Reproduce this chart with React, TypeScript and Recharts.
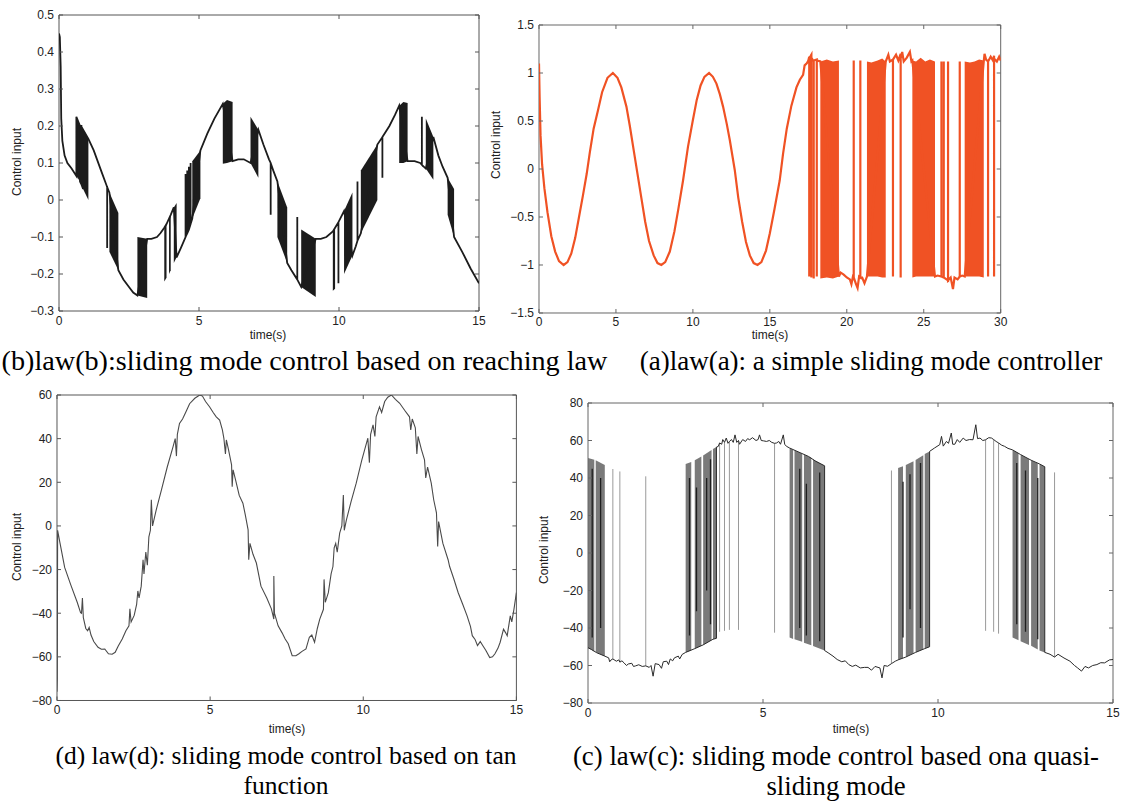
import React from 'react';
import { ComposedChart, Line, Area, XAxis, YAxis, ReferenceArea } from 'recharts';

const SANS = '"Liberation Sans", Arial, Helvetica, sans-serif';
const SERIF = '"Liberation Serif", "Times New Roman", Times, serif';

type Pt = [number, number];
type Rg = [number, number, number];

// ---------------- Panel (b): law(b) ----------------
const bTimeTicks = [0, 5, 10, 15];
const bValueTicks = [-0.3, -0.2, -0.1, 0, 0.1, 0.2, 0.3, 0.4, 0.5];
const bPath: Pt[] = [
  [0, 0.45], [0.03, 0.44], [0.06, 0.36], [0.08, 0.22], [0.12, 0.16], [0.2, 0.12], [0.3, 0.1], [0.45, 0.085], [0.62, 0.065], [0.62, 0.225],
  [0.75, 0.2], [0.75, 0.05], [0.8, 0.042], [0.8, 0.203], [0.8, 0.042], [0.86, 0.03], [0.86, 0.19],
  [1.05, 0.165], [1.24, 0.134], [1.5, 0.08], [1.72, 0.035], [1.72, -0.13], [1.72, 0.035], [1.8, 0.02],
  [2.12, -0.19], [2.3, -0.215], [2.5, -0.235], [2.65, -0.25], [2.8, -0.258],
  [3.15, -0.105], [3.3, -0.105], [3.5, -0.1], [3.62, -0.09], [3.76, -0.075],
  [3.84, -0.065], [3.93, -0.05], [3.99, -0.04], [4.1, -0.02],
  [4.2, -0.155], [4.35, -0.13], [4.52, -0.1], [4.52, 0.07], [4.52, -0.1], [4.58, -0.09], [4.58, 0.08], [4.58, -0.09],
  [4.64, -0.08], [4.64, 0.09], [4.64, -0.08], [4.7, -0.065], [4.7, 0.1], [4.7, -0.065], [4.76, -0.05],
  [5.05, 0.134], [5.3, 0.18], [5.55, 0.22], [5.85, 0.26],
  [6.2, 0.105], [6.4, 0.11], [6.6, 0.11], [6.84, 0.1],
  [7.12, 0.19], [7.3, 0.15], [7.5, 0.11], [7.56, 0.1], [7.56, -0.04], [7.56, 0.1], [7.65, 0.08], [7.8, 0.05],
  [8.15, -0.17], [8.3, -0.19], [8.51, -0.215], [8.51, -0.046], [8.51, -0.215], [8.65, -0.235],
  [9.17, -0.105], [9.35, -0.105], [9.55, -0.1], [9.78, -0.085],
  [9.86, -0.075], [9.98, -0.06], [9.98, -0.225], [9.98, -0.06], [10.18, -0.03],
  [10.48, -0.15], [10.6, -0.125], [10.66, -0.11], [10.66, 0.05], [10.66, -0.11], [10.78, -0.09],
  [11.37, 0.15], [11.55, 0.17], [11.55, 0.06], [11.55, 0.17], [11.8, 0.2], [12.0, 0.23], [12.15, 0.255],
  [12.45, 0.105], [12.7, 0.105], [12.9, 0.1], [12.96, 0.095], [12.96, 0.225], [12.96, 0.095], [13.1, 0.085],
  [13.37, 0.17], [13.55, 0.12], [13.7, 0.09], [13.88, 0.06],
  [14.11, -0.1], [14.4, -0.14], [14.7, -0.185], [15, -0.225],
];
const bBlocks: Rg[][] = [
  [[0.62, 0.065, 0.225], [0.75, 0.05, 0.2]],
  [[0.86, 0.03, 0.19], [1.05, 0.0, 0.165]],
  [[1.8, -0.14, 0.02], [2.12, -0.19, -0.035]],
  [[2.8, -0.258, -0.1], [3.15, -0.265, -0.105]],
  [[3.76, -0.22, -0.075], [3.84, -0.21, -0.065]],
  [[3.93, -0.2, -0.05], [3.99, -0.19, -0.04]],
  [[4.1, -0.17, -0.02], [4.2, -0.155, -0.008]],
  [[4.76, -0.05, 0.105], [5.05, 0.005, 0.134]],
  [[5.85, 0.098, 0.26], [6.0, 0.1, 0.27], [6.2, 0.105, 0.265]],
  [[6.84, 0.1, 0.225], [7.12, 0.06, 0.19]],
  [[7.8, -0.1, 0.05], [8.15, -0.17, -0.02]],
  [[8.65, -0.235, -0.08], [9.17, -0.262, -0.105]],
  [[9.78, -0.245, -0.085], [9.86, -0.24, -0.075]],
  [[10.18, -0.2, -0.03], [10.48, -0.15, 0.02]],
  [[10.78, -0.09, 0.08], [11.37, 0.0, 0.15]],
  [[12.15, 0.1, 0.255], [12.3, 0.1, 0.265], [12.45, 0.105, 0.262]],
  [[13.1, 0.085, 0.22], [13.37, 0.055, 0.17]],
  [[13.88, -0.04, 0.06], [14.11, -0.1, 0.03]],
];

// ---------------- Panel (a): law(a) ----------------
const aTimeTicks = [0, 5, 10, 15, 20, 25, 30];
const aValueTicks = [-1.5, -1, -0.5, 0, 0.5, 1, 1.5];
const aPath: Pt[] = [
  [0, 1.1], [0.04, 0.75], [0.1, 0.35], [0.2, 0.05], [0.35, -0.2], [0.55, -0.45], [0.8, -0.7], [1.05, -0.86], [1.3, -0.96], [1.6, -1.0],
  [1.85, -0.97], [2.1, -0.88], [2.35, -0.72], [2.6, -0.5], [2.85, -0.28], [3.1, -0.05], [3.3, 0.17], [3.55, 0.42], [3.83, 0.61], [4.1, 0.8],
  [4.45, 0.95], [4.8, 1.0], [5.1, 0.95], [5.35, 0.85], [5.68, 0.65], [5.9, 0.45], [6.15, 0.2], [6.4, -0.05], [6.65, -0.3], [6.9, -0.55],
  [7.15, -0.75], [7.45, -0.9], [7.7, -0.98], [7.95, -1.0], [8.2, -0.97], [8.5, -0.86], [8.8, -0.65], [9.05, -0.42], [9.36, -0.12], [9.68, 0.23],
  [10.0, 0.51], [10.25, 0.72], [10.5, 0.87], [10.75, 0.96], [11.05, 1.0], [11.3, 0.96], [11.53, 0.89], [11.75, 0.78], [11.96, 0.65], [12.2, 0.47],
  [12.4, 0.3], [12.72, -0.01], [12.95, -0.3], [13.2, -0.55], [13.45, -0.76], [13.7, -0.9], [13.95, -0.98], [14.2, -1.0], [14.45, -0.97], [14.75, -0.85],
  [15.0, -0.67], [15.3, -0.42], [15.64, -0.12], [15.86, 0.16], [16.1, 0.42], [16.4, 0.66], [16.73, 0.85], [16.95, 0.93], [17.16, 0.98], [17.26, 1.08],
  [17.4, 1.1], [17.5, 1.13],
  [17.56, 1.17], [17.56, -1.12], [17.56, 1.15], [17.7, 1.19], [17.7, -1.13], [17.7, 1.16], [17.85, 1.12], [17.85, -1.14], [17.85, 1.13],
  [18.05, 1.14], [18.05, -1.12], [18.05, 1.13], [18.28, 1.12],
  [19.49, -1.12], [19.6, -1.08], [19.8, -1.1], [20.0, -1.13], [20.2, -1.15], [20.3, -1.2], [20.4, -1.12], [20.45, -1.13], [20.45, 1.13], [20.45, -1.13],
  [20.6, -1.2], [20.7, -1.24], [20.8, -1.12], [20.88, -1.13], [20.88, 1.13], [20.88, -1.13], [21.0, -1.13], [21.15, -1.19], [21.31, -1.12],
  [22.53, 1.12], [22.7, 1.19], [22.8, 1.12], [23.0, 1.14], [23.0, -1.12], [23.0, 1.14], [23.2, 1.19], [23.35, 1.13], [23.5, 1.2], [23.5, -1.13], [23.5, 1.15],
  [23.6, 1.22], [23.7, 1.12], [23.9, 1.16], [24.1, 1.22], [24.2, 1.12], [24.26, 1.13],
  [25.73, -1.12], [25.9, -1.11], [26.15, -1.12], [26.15, 1.12], [26.15, -1.12], [26.3, -1.13], [26.3, 1.12], [26.3, -1.13], [26.58, -1.16], [26.58, 1.12], [26.58, -1.16],
  [26.75, -1.13], [26.9, -1.25], [27.0, -1.13], [27.2, -1.15], [27.34, -1.12], [27.34, 1.12], [27.34, -1.12], [27.5, -1.11], [27.66, -1.12],
  [28.9, 1.12], [28.95, 1.2], [29.05, 1.14], [29.18, 1.12], [29.18, -1.12], [29.18, 1.12], [29.35, 1.17], [29.5, 1.13], [29.57, 1.18], [29.57, -1.12], [29.57, 1.15],
  [29.75, 1.12], [29.9, 1.17], [30, 1.13],
];
const aBlocks: Rg[][] = [
  [[18.28, -1.14, 1.12], [18.7, -1.13, 1.14], [19.1, -1.14, 1.12], [19.49, -1.12, 1.13]],
  [[21.31, -1.12, 1.12], [21.6, -1.12, 1.11], [22.0, -1.12, 1.13], [22.3, -1.13, 1.15], [22.53, -1.13, 1.12]],
  [[24.26, -1.13, 1.13], [24.5, -1.12, 1.12], [24.8, -1.12, 1.16], [25.1, -1.12, 1.12], [25.4, -1.12, 1.14], [25.73, -1.12, 1.12]],
  [[27.66, -1.12, 1.12], [28.0, -1.12, 1.11], [28.3, -1.12, 1.12], [28.6, -1.12, 1.14], [28.9, -1.13, 1.13]],
];

// ---------------- Panel (d): law(d) ----------------
const dTimeTicks = [0, 5, 10, 15];
const dValueTicks = [-80, -60, -40, -20, 0, 20, 40, 60];
const dPath: Pt[] = [
  [0, -76], [0.01, -70], [0.02, -2], [0.1, -8], [0.25, -19], [0.45, -27], [0.66, -35], [0.77, -39.7], [0.8, -40], [0.83, -33], [0.86, -42],
  [0.94, -47], [1.0, -48], [1.05, -46.5], [1.11, -50], [1.2, -53], [1.34, -55.6], [1.45, -56.5], [1.56, -56.4], [1.68, -58.6], [1.8, -58.8],
  [1.9, -57.9], [2.0, -55], [2.13, -51.8], [2.25, -48], [2.35, -45.8], [2.38, -38], [2.42, -44], [2.52, -41], [2.6, -36], [2.64, -29.8],
  [2.68, -33], [2.75, -27.6], [2.81, -15.5], [2.84, -22], [2.9, -12], [2.95, -18], [3.0, -5], [3.05, -2], [3.08, 12], [3.12, 0],
  [3.24, 7.4], [3.4, 16], [3.6, 27], [3.79, 36.3], [3.86, 40], [3.9, 32], [3.93, 42], [4.0, 47], [4.1, 49], [4.2, 52], [4.33, 56],
  [4.5, 58.5], [4.66, 60], [4.75, 59.5], [4.85, 57], [4.98, 54.6], [5.1, 52], [5.2, 50], [5.31, 48.5], [5.4, 44], [5.45, 40], [5.5, 33],
  [5.53, 39.4], [5.6, 35], [5.7, 28], [5.72, 18], [5.75, 25.7], [5.85, 20], [5.95, 14], [6.07, 10.4], [6.15, 5], [6.24, -1.8],
  [6.26, -15.5], [6.3, -8], [6.4, -13], [6.51, -17], [6.66, -27.6], [6.85, -33], [7.0, -38], [7.08, -42.7], [7.08, -23], [7.1, -40],
  [7.22, -45.8], [7.35, -49], [7.45, -51.8], [7.55, -54], [7.68, -59.5], [7.8, -59.5], [7.9, -58.6], [8.0, -57.5], [8.13, -56.4],
  [8.24, -51], [8.32, -50], [8.41, -53.3], [8.5, -47], [8.58, -42.7], [8.7, -38.2], [8.72, -24.5], [8.76, -35], [8.86, -30.6],
  [8.95, -22], [9.01, -18.6], [9.05, -10], [9.1, -8], [9.15, -12], [9.23, -3.3], [9.3, 0], [9.35, 14.2], [9.38, -2], [9.45, 2.8],
  [9.6, 11], [9.77, 19.6], [9.95, 30], [10.15, 40.2], [10.2, 29], [10.24, 42], [10.32, 46.3], [10.38, 41], [10.42, 50], [10.53, 54.6],
  [10.6, 52], [10.7, 57], [10.8, 59], [10.92, 60], [11.05, 58], [11.19, 56.2], [11.35, 53], [11.51, 50], [11.55, 44], [11.6, 49],
  [11.7, 45], [11.75, 33], [11.79, 41], [11.9, 35], [12.0, 30.3], [12.04, 22], [12.1, 27], [12.22, 19.6], [12.3, 12], [12.39, 6],
  [12.43, -9.4], [12.46, 2], [12.6, -8], [12.77, -15.5], [12.82, -18.6], [12.95, -24], [13.1, -30.6], [13.25, -36], [13.39, -41.2],
  [13.5, -46], [13.56, -50.3], [13.65, -52], [13.73, -54.8], [13.82, -53], [13.9, -54.8], [14.0, -57], [14.13, -60.3], [14.22, -60],
  [14.3, -58.6], [14.4, -56], [14.47, -53.3], [14.58, -47.3], [14.65, -49], [14.7, -50.3], [14.8, -41.2], [14.85, -44], [14.92, -38.2], [15, -30.6],
];

// ---------------- Panel (c): law(c) ----------------
const cTimeTicks = [0, 5, 10, 15];
const cValueTicks = [-80, -60, -40, -20, 0, 20, 40, 60, 80];
const cPath: Pt[] = [
  [0, -50.5], [0.1, -51.5], [0.25, -53.2], [0.48, -55], [0.59, -55.9], [0.62, -58], [0.66, -57], [0.71, -56.5], [0.81, -57.7], [0.88, -57], [0.91, -58.2],
  [0.97, -57.5], [1.03, -58.6], [1.1, -60], [1.15, -59.2], [1.25, -58.8], [1.3, -60.5], [1.36, -60.2], [1.45, -59.6], [1.55, -60.5], [1.65, -60.2], [1.75, -61],
  [1.8, -60], [1.86, -65.7], [1.92, -59], [2.03, -59.5], [2.1, -61.5], [2.15, -58], [2.25, -57.7], [2.3, -59.5], [2.35, -56.5], [2.42, -57.5],
  [2.47, -55.9], [2.58, -55], [2.62, -56.5], [2.69, -54.1], [2.79, -53], [3.05, -51], [3.29, -49], [3.57, -46], [3.67, -45.5], [3.67, 56.5],
  [3.72, 56.8], [3.76, 58.7], [3.82, 58], [3.85, 60.5], [3.9, 59], [3.95, 61.3], [4.0, 58.5], [4.04, 59.5], [4.1, 60.5],
  [4.15, 59], [4.2, 63], [4.25, 59], [4.3, 60], [4.33, 58], [4.42, 60.5], [4.5, 59.5], [4.56, 61], [4.62, 60.4], [4.7, 61.5],
  [4.8, 60], [4.86, 60.5], [4.9, 63], [4.95, 60], [5.02, 59.8], [5.1, 59.5], [5.18, 60], [5.25, 59], [5.33, 58.5], [5.39, 58.7],
  [5.45, 59.5], [5.5, 58], [5.58, 63], [5.62, 58], [5.67, 56.9], [5.76, 56], [6.0, 54], [6.3, 51.5], [6.5, 49], [6.76, 46.5], [6.76, -52],
  [6.86, -53.2], [7.0, -55], [7.12, -56.8], [7.25, -58], [7.35, -57.5], [7.45, -59.5], [7.55, -60.5], [7.65, -59.8], [7.78, -61.3], [7.9, -61], [8.0, -61],
  [8.1, -62.5], [8.2, -60.5], [8.34, -61.3], [8.4, -66.6], [8.46, -60], [8.56, -60.4], [8.67, -59], [8.78, -57.7], [8.86, -57],
  [9.08, -55.5], [9.36, -53], [9.62, -51], [9.76, -50], [9.76, 54.2],
  [9.9, 56], [10.05, 57.8], [10.1, 62.2], [10.15, 57], [10.24, 59.5], [10.3, 58.5], [10.38, 64], [10.42, 58], [10.48, 58], [10.55, 60.5],
  [10.62, 59], [10.72, 61.3], [10.8, 60], [10.9, 60.5], [11.0, 60.4], [11.08, 68.4], [11.13, 61], [11.2, 61.3], [11.28, 60], [11.36, 60.4],
  [11.45, 61.5], [11.53, 61.3], [11.59, 60.5], [11.66, 59.5], [11.73, 58.7], [11.82, 57.5], [11.9, 56.9], [12.0, 55.8], [12.13, 55],
  [12.36, 52.5], [12.66, 49.5], [12.9, 47.5], [13.05, 46], [13.05, -53],
  [13.2, -54], [13.33, -55.5], [13.43, -54], [13.6, -56], [13.77, -57.7], [13.9, -60], [13.99, -61.3], [14.1, -63], [14.2, -60.5],
  [14.3, -61.3], [14.42, -60], [14.54, -59.5], [14.65, -58.5], [14.76, -58.6], [14.9, -57], [15, -56.8],
];
const cSpikes: Rg[] = [
  [0.71, -56.5, 44.8], [0.91, -58.2, 43.5], [1.65, -60.2, 40.9], [3.76, -42, 58.7], [3.9, -41.5, 59], [4.04, -41, 59.5], [4.3, -41, 60],
  [5.33, -42.5, 58.5], [8.67, -59, 44], [11.36, -41.5, 60.4], [11.59, -42, 60.5], [11.73, -43, 58.7], [13.33, -55.5, 43],
];
const cDark: Rg[] = [
  [0.12, -45, 45], [0.36, -40, 40], [2.9, -44, 40], [3.1, -31, 35], [3.39, -20, 40], [3.5, -38, 50],
  [6.05, -40, 45], [6.24, -44, 37], [6.62, -47, 43], [9.0, -45, 38], [9.2, -30, 42], [9.5, -40, 48],
  [12.25, -38, 48], [12.5, -42, 44], [12.85, -46, 40],
];
const cBlocks: Rg[][] = [
  [[0, -50.5, 50.7], [0.18, -52.5, 49.8]],
  [[0.22, -52.8, 49.5], [0.48, -55, 47]],
  [[2.79, -53, 47.5], [2.95, -52, 48.5]],
  [[3.05, -51, 49.5], [3.24, -49.5, 51.5]],
  [[3.29, -49, 52], [3.53, -46.5, 55]],
  [[3.57, -46, 55.5], [3.67, -45.5, 56.5]],
  [[5.76, -45, 56], [5.86, -45.8, 55]],
  [[5.9, -46, 54.8], [6.12, -47.3, 53]],
  [[6.17, -47.8, 52.5], [6.38, -49.2, 50.8]],
  [[6.43, -49.6, 50], [6.76, -52, 46.5]],
  [[8.86, -57, 45.3], [9.0, -56, 46.3]],
  [[9.08, -55.5, 47], [9.3, -53.5, 49]],
  [[9.36, -53, 49.6], [9.58, -51.3, 52.2]],
  [[9.62, -51, 52.8], [9.76, -50, 54.2]],
  [[12.13, -45, 55], [12.3, -46.5, 53.2]],
  [[12.36, -47, 52.5], [12.6, -49, 50]],
  [[12.66, -49.5, 49.5], [12.85, -51.5, 47.8]],
  [[12.9, -52, 47.5], [13.05, -53, 46]],
];

// ---------------- helpers ----------------
const toPts = (arr: Pt[]) => arr.map(([t, u]) => ({ t, u }));
const toRange = (arr: Rg[]) => arr.map(([t, lo, hi]) => ({ t, r: [lo, hi] }));
const toSegs = (arr: Rg[]) => arr.flatMap(([t, lo, hi]) => [{ t, u: lo }, { t, u: hi }, { t, u: null as number | null }]);
const fmt = (v: number) => (v < 0 ? '\u2212' + String(-v) : String(v));

const ML = 60, MT = 10, MR = 10, MB = 30;

type PanelProps = {
  left: number; top: number; w: number; h: number;
  xDomain: [number, number]; xTicks: number[];
  yDomain: [number, number]; yTicks: number[];
  boxColor: string;
  children: React.ReactNode;
};

function Panel({ left, top, w, h, xDomain, xTicks, yDomain, yTicks, boxColor, children }: PanelProps) {
  const W = w + ML + MR;
  const H = h + MT + MB;
  const yb = MT + h;
  const XTick = (props: any) => {
    const { x, payload } = props;
    return (
      <g>
        <line x1={x} x2={x} y1={yb} y2={yb - 4} stroke={boxColor} />
        <line x1={x} x2={x} y1={MT} y2={MT + 4} stroke={boxColor} />
        <text x={x} y={yb + 13.5} textAnchor="middle" fontSize={12} fill="#222" fontFamily={SANS}>{fmt(payload.value)}</text>
      </g>
    );
  };
  const YTick = (props: any) => {
    const { y, payload } = props;
    return (
      <g>
        <line x1={ML} x2={ML + 4} y1={y} y2={y} stroke={boxColor} />
        <line x1={ML + w} x2={ML + w - 4} y1={y} y2={y} stroke={boxColor} />
        <text x={ML - 5} y={y + 4.3} textAnchor="end" fontSize={12} fill="#222" fontFamily={SANS}>{fmt(payload.value)}</text>
      </g>
    );
  };
  return (
    <div style={{ position: 'absolute', left: left - ML, top: top - MT, width: W, height: H }}>
      <ComposedChart width={W} height={H} margin={{ top: MT, right: MR, bottom: 0, left: 0 }}>
        <XAxis type="number" dataKey="t" domain={xDomain} ticks={xTicks} allowDataOverflow interval={0}
          tickLine={false} axisLine={false} tickSize={0} tickMargin={0} height={MB} tick={XTick} />
        <YAxis type="number" domain={yDomain} ticks={yTicks} allowDataOverflow interval={0}
          tickLine={false} axisLine={false} tickSize={0} tickMargin={0} width={ML} tick={YTick} />
        {children}
        <ReferenceArea x1={xDomain[0]} x2={xDomain[1]} y1={yDomain[0]} y2={yDomain[1]} fill="none" fillOpacity={0}
          stroke={boxColor} strokeWidth={1} ifOverflow="visible" />
      </ComposedChart>
    </div>
  );
}

const labelBase: React.CSSProperties = {
  position: 'absolute', fontFamily: SANS, fontSize: 12, color: '#222', whiteSpace: 'nowrap', lineHeight: 1,
};

function YLabel({ cx, cy }: { cx: number; cy: number }) {
  return <div style={{ ...labelBase, left: cx, top: cy, transform: 'translate(-50%, -50%) rotate(-90deg)' }}>Control input</div>;
}
function XLabel({ cx, cy }: { cx: number; cy: number }) {
  return <div style={{ ...labelBase, left: cx, top: cy, transform: 'translate(-50%, -50%)' }}>time(s)</div>;
}
function Caption({ cx, cy, lines, size }: { cx: number; cy: number; lines: string[]; size: number }) {
  return (
    <div style={{
      position: 'absolute', left: cx - 400, width: 800, top: cy - 15, textAlign: 'center',
      fontFamily: SERIF, fontSize: size, lineHeight: '30px', color: '#000', whiteSpace: 'nowrap',
    }}>
      {lines.map((l, i) => <div key={i}>{l}</div>)}
    </div>
  );
}

export default function App() {
  return (
    <div style={{ position: 'absolute', left: 0, top: 0, width: 1125, height: 801, background: '#fff', overflow: 'hidden' }}>
      {/* (b) */}
      <Panel left={58.7} top={14.7} w={420} h={296} xDomain={[0, 15]} xTicks={bTimeTicks}
        yDomain={[-0.3, 0.5]} yTicks={bValueTicks} boxColor="#555">
        {bBlocks.map((b, i) => (
          <Area key={'bb' + i} data={toRange(b)} dataKey="r" type="linear" stroke="none" fill="#1c1c1c" fillOpacity={1} isAnimationActive={false} />
        ))}
        <Line data={toPts(bPath)} dataKey="u" type="linear" stroke="#1c1c1c" strokeWidth={1.8} dot={false} isAnimationActive={false} />
      </Panel>
      <YLabel cx={17} cy={162} />
      <XLabel cx={268} cy={335} />
      <Caption cx={304.5} cy={361} size={28.2} lines={['(b)law(b):sliding mode control based on reaching law']} />

      {/* (a) */}
      <Panel left={539.3} top={24.7} w={461.7} h={288} xDomain={[0, 30]} xTicks={aTimeTicks}
        yDomain={[-1.5, 1.5]} yTicks={aValueTicks} boxColor="#666">
        {aBlocks.map((b, i) => (
          <Area key={'ab' + i} data={toRange(b)} dataKey="r" type="linear" stroke="none" fill="#f05224" fillOpacity={1} isAnimationActive={false} />
        ))}
        <Line data={toPts(aPath)} dataKey="u" type="linear" stroke="#f05224" strokeWidth={2.2} dot={false} isAnimationActive={false} />
      </Panel>
      <YLabel cx={496} cy={145} />
      <XLabel cx={770} cy={335} />
      <Caption cx={871} cy={361} size={27} lines={['(a)law(a): a simple sliding mode controller']} />

      {/* (d) */}
      <Panel left={57.3} top={395} w={459.4} h={305.5} xDomain={[0, 15]} xTicks={dTimeTicks}
        yDomain={[-80, 60]} yTicks={dValueTicks} boxColor="#555">
        <Line data={toPts(dPath)} dataKey="u" type="linear" stroke="#4a4a4a" strokeWidth={1.1} dot={false} isAnimationActive={false} />
      </Panel>
      <YLabel cx={17} cy={547} />
      <XLabel cx={287} cy={729} />
      <Caption cx={286} cy={756} size={25.5} lines={['(d) law(d): sliding mode control based on tan', 'function']} />

      {/* (c) */}
      <Panel left={588.3} top={403.3} w={525} h={300} xDomain={[0, 15]} xTicks={cTimeTicks}
        yDomain={[-80, 80]} yTicks={cValueTicks} boxColor="#666">
        {cBlocks.map((b, i) => (
          <Area key={'cb' + i} data={toRange(b)} dataKey="r" type="linear" stroke="none" fill="#7a7a7a" fillOpacity={1} isAnimationActive={false} />
        ))}
        <Line data={toSegs(cDark)} dataKey="u" type="linear" stroke="#1e1e1e" strokeWidth={1.3} dot={false} connectNulls={false} isAnimationActive={false} />
        <Line data={toSegs(cSpikes)} dataKey="u" type="linear" stroke="#9a9a9a" strokeWidth={1} dot={false} connectNulls={false} isAnimationActive={false} />
        <Line data={toPts(cPath)} dataKey="u" type="linear" stroke="#2a2a2a" strokeWidth={1} dot={false} isAnimationActive={false} />
      </Panel>
      <YLabel cx={544} cy={550} />
      <XLabel cx={851} cy={729} />
      <Caption cx={836} cy={756} size={26.8} lines={['(c) law(c): sliding mode control based ona quasi-', 'sliding mode']} />
    </div>
  );
}
